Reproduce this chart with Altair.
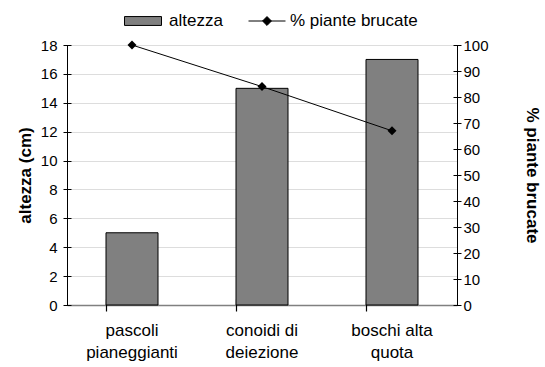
import altair as alt
import pandas as pd

categories = ["pascoli pianeggianti", "conoidi di deiezione", "boschi alta quota"]
altezza = [5, 15, 17]
piante_brucate = [100, 84, 67]

df = pd.DataFrame({
    "cat": categories,
    "altezza": altezza,
    "pct": piante_brucate,
    "s1": ["altezza"] * 3,
    "s2": ["% piante brucate"] * 3,
})

FONT = "Liberation Sans"
xsort = categories
xscale = alt.Scale(paddingInner=0.6, paddingOuter=0.3)
split_expr = ("[slice(datum.label, 0, lastindexof(datum.label, ' ')), "
              "slice(datum.label, lastindexof(datum.label, ' ') + 1)]")

base = alt.Chart(df)

bars = base.mark_bar(stroke="black", strokeWidth=1).encode(
    x=alt.X("cat:N", sort=xsort, scale=xscale, title=None,
            axis=alt.Axis(orient="bottom", labelAngle=0, labelExpr=split_expr,
                          domainColor="#808080", domainWidth=1.5,
                          ticks=False, labelFont=FONT, labelFontSize=17,
                          labelColor="black", labelPadding=17,
                          labelLineHeight=22)),
    y=alt.Y("altezza:Q", scale=alt.Scale(domain=[0, 18]),
            title="altezza (cm)",
            axis=alt.Axis(orient="left", values=list(range(0, 19, 2)),
                          ticks=False, domainColor="black",
                          labelFont=FONT, labelFontSize=15, labelColor="black",
                          labelPadding=10, titleFont=FONT, titleFontSize=17,
                          titleFontWeight="bold", titleColor="black",
                          titlePadding=6)),
    fill=alt.Fill("s1:N", scale=alt.Scale(domain=["altezza"], range=["#808080"]),
                  legend=alt.Legend(title=None, orient="none", legendX=57, legendY=-43,
                                    symbolType="M-1,-0.24H1V0.24H-1Z",
                                    symbolSize=1369, symbolStrokeColor="black",
                                    symbolStrokeWidth=1, labelFont=FONT,
                                    labelFontSize=17, labelColor="black",
                                    labelOffset=7, padding=0)),
)

# cross ticks for x axis
xticks = base.mark_bar(opacity=0).encode(
    x=alt.X("cat:N", sort=xsort, scale=xscale, title=None,
            axis=alt.Axis(orient="bottom", offset=-6, domain=False, labels=False,
                          tickSize=12, tickColor="black", tickWidth=1.2,
                          bandPosition=0)),
    y=alt.Y("altezza:Q", scale=alt.Scale(domain=[0, 18]), axis=None),
)

# cross ticks for left axis
lticks = base.mark_bar(opacity=0).encode(
    x=alt.X("cat:N", sort=xsort, scale=xscale, axis=None),
    y=alt.Y("altezza:Q", scale=alt.Scale(domain=[0, 18]), title=None,
            axis=alt.Axis(orient="left", offset=-4, domain=False, labels=False,
                          values=list(range(0, 19, 2)), tickSize=8,
                          tickColor="black")),
)

line = base.mark_line(color="black", strokeWidth=1).encode(
    x=alt.X("cat:N", sort=xsort, scale=xscale, axis=None),
    y=alt.Y("pct:Q", scale=alt.Scale(domain=[0, 100]), title="% piante brucate",
            axis=alt.Axis(orient="right", values=list(range(0, 101, 10)),
                          ticks=False, domainColor="black",
                          labelFont=FONT, labelFontSize=15, labelColor="black",
                          labelPadding=6, titleFont=FONT, titleFontSize=17,
                          titleFontWeight="bold", titleColor="black",
                          titleAngle=90, titlePadding=34)),
)

points = base.mark_point(filled=True, shape="diamond", size=81, opacity=1).encode(
    x=alt.X("cat:N", sort=xsort, scale=xscale, axis=None),
    y=alt.Y("pct:Q", scale=alt.Scale(domain=[0, 100]), axis=None),
    fill=alt.Fill("s2:N", scale=alt.Scale(domain=["% piante brucate"], range=["black"]),
                  legend=alt.Legend(title=None, orient="none", legendX=181, legendY=-43,
                                    symbolType="M-1,0H1M0,-0.24L0.24,0L0,0.24L-0.24,0Z",
                                    symbolSize=1369, symbolStrokeColor="black",
                                    symbolFillColor="black",
                                    symbolStrokeWidth=1, labelFont=FONT,
                                    labelFontSize=17, labelColor="black",
                                    labelOffset=4, padding=0)),
)

rticks = base.mark_point(opacity=0).encode(
    x=alt.X("cat:N", sort=xsort, scale=xscale, axis=None),
    y=alt.Y("pct:Q", scale=alt.Scale(domain=[0, 100]), title=None,
            axis=alt.Axis(orient="right", offset=-4, domain=False, labels=False,
                          values=list(range(0, 101, 10)), tickSize=8,
                          tickColor="black")),
)

chart = alt.layer(bars, xticks, lticks, line, points, rticks).resolve_scale(
    y="independent", fill="independent"
).resolve_axis(x="independent", y="independent").resolve_legend(
    fill="independent"
).properties(
    width=390, height=260,
    autosize=alt.AutoSizeParams(type="none"),
    padding={"left": 67, "top": 45, "right": 88, "bottom": 62},
).configure_view(stroke=None).configure(background="white")

chart.save("out.html", embed_options={"renderer": "svg", "actions": False})
